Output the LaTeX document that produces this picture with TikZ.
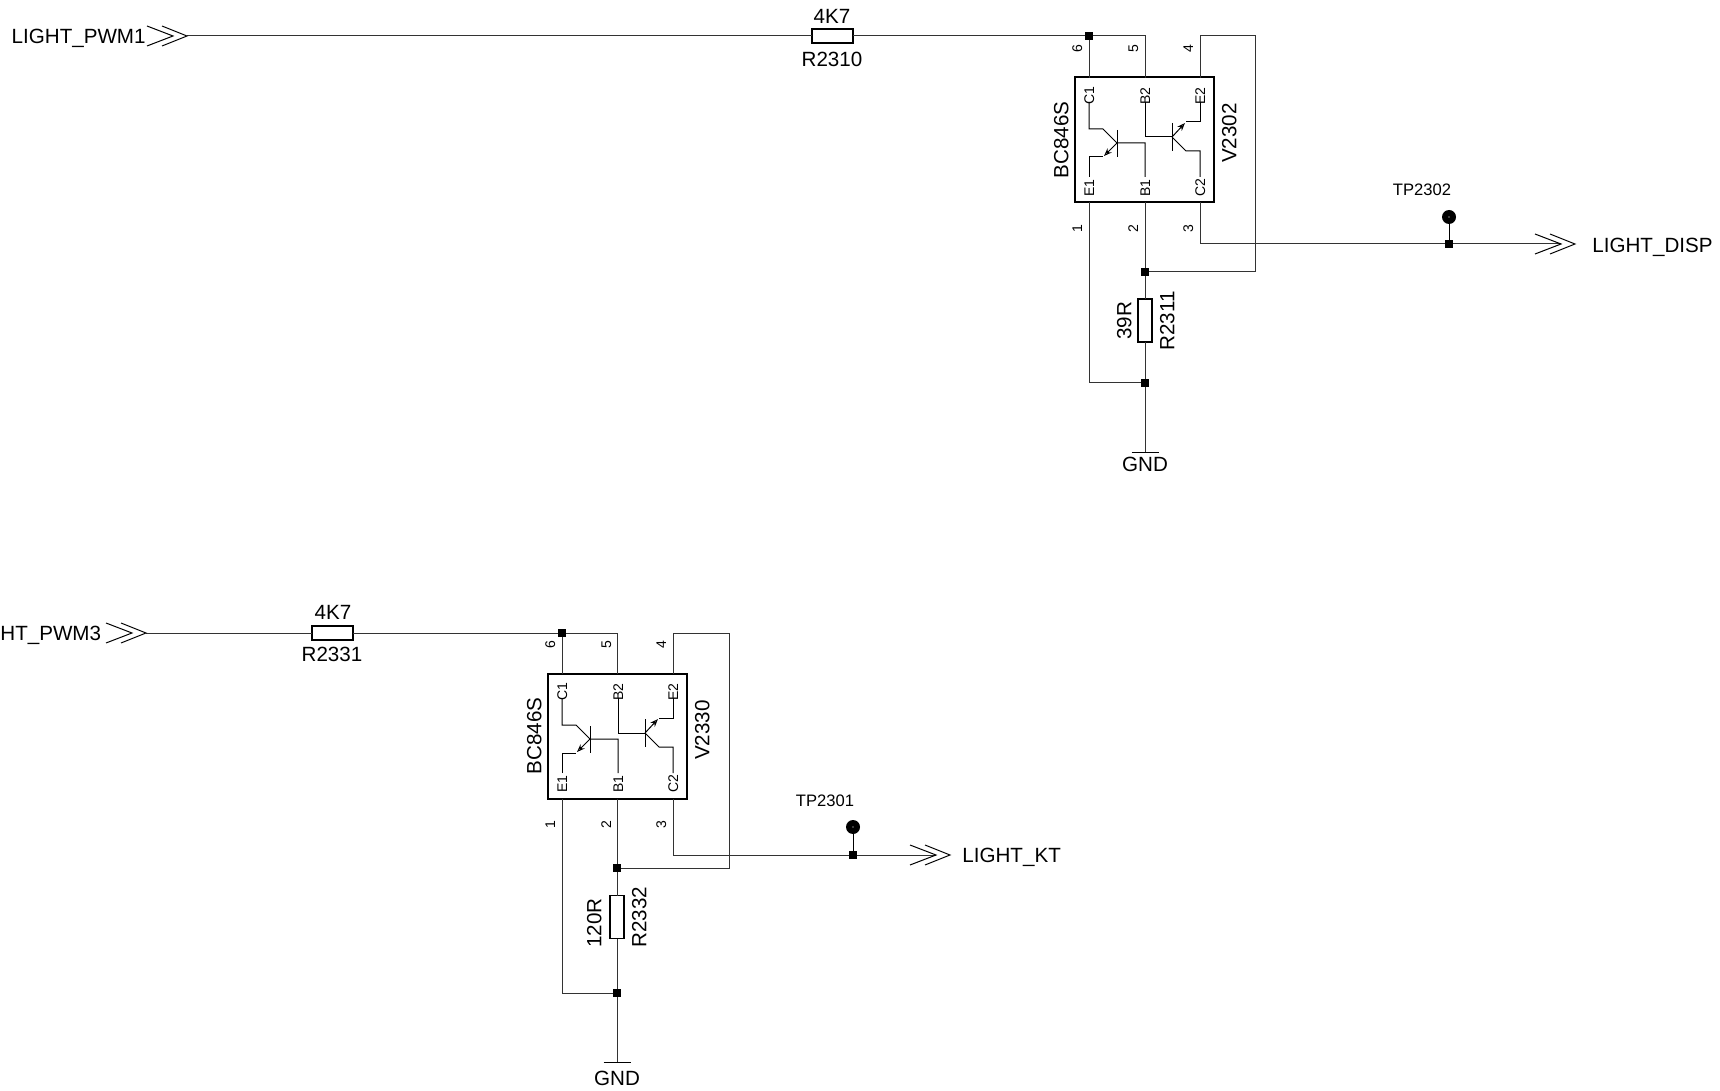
\documentclass[tikz,border=0pt]{standalone}
\usepackage{fontspec}
\setmainfont{Liberation Sans}
\usetikzlibrary{arrows.meta}

\tikzset{
  wire/.style={line width=0.5pt, color=black!80},
  thin wire/.style={line width=0.5pt, color=black},
  txt/.style={inner sep=0pt, font=\fontsize{10.3}{10.3}\selectfont, text height=7.4pt, text depth=0pt},
  vtxt/.style={txt, rotate=90},
  tptxt/.style={txt, font=\fontsize{8.3}{8.3}\selectfont, text height=6pt},
  pintxt/.style={inner sep=0pt, rotate=90, font=\fontsize{7}{7}\selectfont, text height=5pt, text depth=0pt},
  dot/.style={rectangle, fill=black, minimum size=4.4pt, inner sep=0pt, outer sep=0pt},
  tpoint/.style={circle, fill=black, minimum size=7pt, inner sep=0pt, outer sep=0pt},
  rh/.style={draw=black, fill=white, line width=0.8pt, minimum width=20.5pt, minimum height=7pt, inner sep=0pt, outer sep=0pt},
  rv/.style={draw=black, fill=white, line width=0.8pt, minimum width=7pt, minimum height=21.5pt, inner sep=0pt, outer sep=0pt},
  icbox/.style={draw=black, line width=1pt, minimum width=69.5pt, minimum height=62.5pt, inner sep=0pt, outer sep=0pt},
  chevrons/.pic={
    \draw[thin wire] (-40,-10) -- (-14,0) -- (-40,10);
    \draw[thin wire] (-25,-10) -- (0,0) -- (-25,10);
  },
  bcpair/.pic={
    % left transistor
    \draw[thin wire] (0,24) -- (0,51) -- (14,51) -- (28,65) -- (56,65) -- (56,99);
    \draw[thin wire] (28,52) -- (28,79);
    \draw[thin wire] (0,99) -- (0,79) -- (14,79);
    \draw[thin wire, -{Stealth[length=4pt, width=3pt, open]}] (28,65) -- (15,78);
    % right transistor
    \draw[thin wire] (56,24) -- (56,59) -- (83,59);
    \draw[thin wire] (83,45) -- (83,73);
    \draw[thin wire] (83,59) -- (97,73) -- (111,73) -- (111,99);
    \draw[thin wire] (111,24) -- (111,44) -- (97,44);
    \draw[thin wire, -{Stealth[length=4pt, width=3pt, open]}] (83,59) -- (96,45);
    % inner labels
    \node[pintxt] (-c1) at (0,18) {C1};
    \node[pintxt] (-b2) at (56,18) {B2};
    \node[pintxt] (-e2) at (111,18) {E2};
    \node[pintxt] (-e1) at (0,110) {E1};
    \node[pintxt] (-b1) at (56,110) {B1};
    \node[pintxt] (-c2) at (111,110) {C2};
    % pin numbers
    \node[pintxt] (-p6) at (-12,-29) {6};
    \node[pintxt] (-p5) at (44,-29) {5};
    \node[pintxt] (-p4) at (99,-29) {4};
    \node[pintxt] (-p1) at (-12,151) {1};
    \node[pintxt] (-p2) at (44,151) {2};
    \node[pintxt] (-p3) at (99,151) {3};
  }
}

\begin{document}
\begin{tikzpicture}[x=0.5pt, y=-0.5pt]
  \useasboundingbox (0,0) rectangle (1720,1091);

  % upper stage
  \node[txt, anchor=east] (PWM1) at (146,36) {LIGHT\_PWM1};
  \coordinate (InA) at (187,36);
  \node[rh] (R2310) at (832.5,36) {};
  \node[txt] (VR2310) at (832,16) {4K7};
  \node[txt] (NR2310) at (832,59) {R2310};
  \node[dot] (JA) at (1089,36) {};
  \node[icbox] (V2302) at (1144.5,140) {};
  \node[vtxt] (TA) at (1061,140) {BC846S};
  \node[vtxt] (NA) at (1229,133) {V2302};
  \coordinate (A6) at (1089,78);
  \coordinate (A5) at (1145,78);
  \coordinate (A4) at (1200,78);
  \coordinate (A1) at (1089,202);
  \coordinate (A2) at (1145,202);
  \coordinate (A3) at (1200,202);
  \coordinate (LoopA) at (1255,36);
  \node[dot] (JB) at (1145,272) {};
  \node[rv] (R2311) at (1145,320.5) {};
  \node[vtxt] (VR2311) at (1124,321) {39R};
  \node[vtxt] (NR2311) at (1167,321) {R2311};
  \node[dot] (JC) at (1145,383) {};
  \coordinate (GndA) at (1145,452);
  \node[txt] (GNDA) at (1145,464) {GND};
  \node[dot] (JD) at (1449,244) {};
  \node[tpoint] (TP2302) at (1449,217) {};
  \node[tptxt] (LTP2302) at (1422,190) {TP2302};
  \coordinate (OutA) at (1575,244);
  \coordinate (OutAe) at (1561,244);
  \node[txt, anchor=west] (DISP) at (1592,245) {LIGHT\_DISP};

  \draw[wire] (InA) -- (R2310.west);
  \draw[wire] (R2310.east) -- (JA);
  \draw[wire] (JA) -| (A5);
  \draw[wire] (JA) -- (A6);
  \draw[wire] (A4) |- (LoopA) |- (JB);
  \draw[wire] (A2) -- (JB) -- (R2311.north);
  \draw[wire] (R2311.south) -- (JC) -- (GndA);
  \draw[wire] (A1) |- (JC);
  \draw[wire] (A3) |- (JD);
  \draw[wire] (JD) -- (OutAe);
  \draw[thin wire] (JD) -- (TP2302);
  \draw[thin wire] (GndA) ++(-13.5,0) -- ++(27,0);
  \pic at (InA) {chevrons};
  \pic at (OutA) {chevrons};
  \pic (PairA) at (A6) {bcpair};
  \fill[white] (TP2302) circle (0.6);

  % lower stage
  \node[txt, anchor=east] (PWM3) at (101.5,633) {HT\_PWM3};
  \coordinate (InB) at (146,633);
  \node[rh] (R2331) at (332.5,633) {};
  \node[txt] (VR2331) at (333,612) {4K7};
  \node[txt] (NR2331) at (332,654) {R2331};
  \node[dot] (JE) at (562,633) {};
  \node[icbox] (V2330) at (617.5,736.5) {};
  \node[vtxt] (TB) at (534,736) {BC846S};
  \node[vtxt] (NB) at (702,730) {V2330};
  \coordinate (B6) at (562,674);
  \coordinate (B5) at (617,674);
  \coordinate (B4) at (673,674);
  \coordinate (B1) at (562,799);
  \coordinate (B2) at (617,799);
  \coordinate (B3) at (673,799);
  \coordinate (LoopB) at (729,633);
  \node[dot] (JF) at (617,868) {};
  \node[rv] (R2332) at (617,917) {};
  \node[vtxt] (VR2332) at (594,923) {120R};
  \node[vtxt] (NR2332) at (639,917) {R2332};
  \node[dot] (JG) at (617,993) {};
  \coordinate (GndB) at (617,1062);
  \node[txt] (GNDB) at (617,1078) {GND};
  \node[dot] (JH) at (853,855) {};
  \node[tpoint] (TP2301) at (853,827) {};
  \node[tptxt] (LTP2301) at (825,800) {TP2301};
  \coordinate (OutB) at (950,855);
  \coordinate (OutBe) at (936,855);
  \node[txt, anchor=west] (KT) at (962,855) {LIGHT\_KT};

  \draw[wire] (InB) -- (R2331.west);
  \draw[wire] (R2331.east) -- (JE);
  \draw[wire] (JE) -| (B5);
  \draw[wire] (JE) -- (B6);
  \draw[wire] (B4) |- (LoopB) |- (JF);
  \draw[wire] (B2) -- (JF) -- (R2332.north);
  \draw[wire] (R2332.south) -- (JG) -- (GndB);
  \draw[wire] (B1) |- (JG);
  \draw[wire] (B3) |- (JH);
  \draw[wire] (JH) -- (OutBe);
  \draw[thin wire] (JH) -- (TP2301);
  \draw[thin wire] (GndB) ++(-13.5,0) -- ++(27,0);
  \pic at (InB) {chevrons};
  \pic at (OutB) {chevrons};
  \pic (PairB) at (B6) {bcpair};
  \fill[white] (TP2301) circle (0.6);
\end{tikzpicture}
\end{document}
